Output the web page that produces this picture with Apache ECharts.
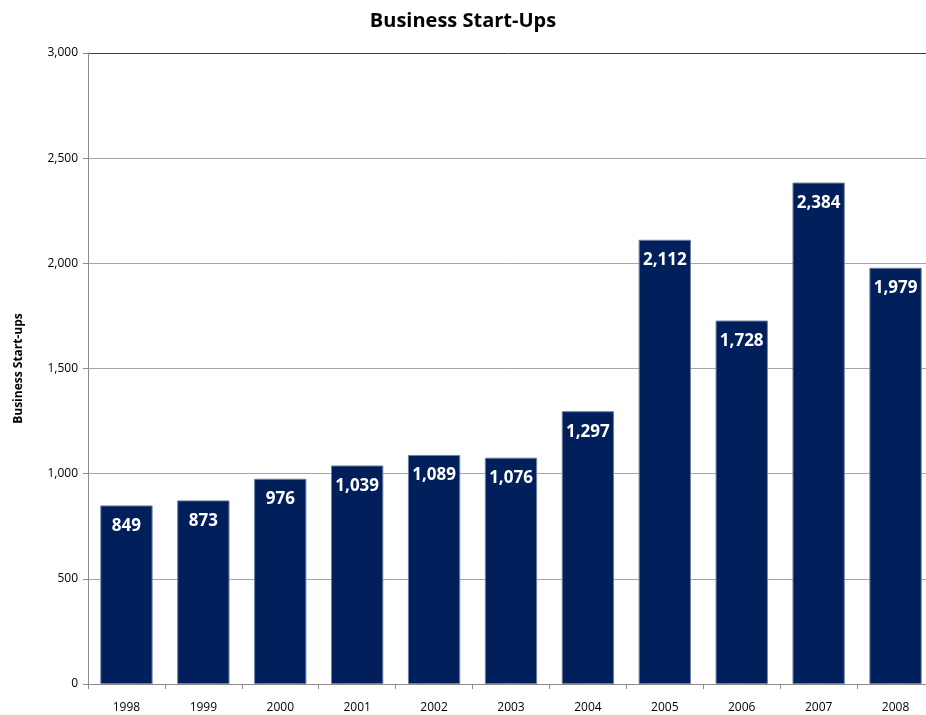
<!DOCTYPE html>
<html>
<head>
<meta charset="utf-8">
<script src="https://cdn.jsdelivr.net/npm/echarts@6/dist/echarts.min.js"></script>
<style>
  html, body { margin: 0; padding: 0; background: #fff; }
  #chart { width: 926px; height: 715px; }
</style>
</head>
<body>
<div id="chart"></div>
<script>
// Annual business start-up counts
const years = ['1998', '1999', '2000', '2001', '2002', '2003', '2004', '2005', '2006', '2007', '2008'];
const startUps = [849, 873, 976, 1039, 1089, 1076, 1297, 2112, 1728, 2384, 1979];

const FONT = '"Open Sans", "Liberation Sans", sans-serif';

const chart = echarts.init(document.getElementById('chart'));
chart.setOption({
  animation: false,
  title: {
    text: 'Business Start-Ups',
    left: 'center',
    top: 6,
    textStyle: { fontFamily: FONT, fontSize: 20, fontWeight: 'bold', color: '#000' }
  },
  grid: { left: 88, top: 53, width: 846, height: 631, outerBoundsMode: 'none' },
  xAxis: {
    type: 'category',
    data: years,
    axisLine: { lineStyle: { color: '#8c8c8c', width: 1 } },
    axisTick: { show: true, alignWithLabel: false, length: 5, lineStyle: { color: '#8c8c8c' } },
    axisLabel: { fontFamily: FONT, fontSize: 12, color: '#000', margin: 18 }
  },
  yAxis: {
    type: 'value',
    min: 0,
    max: 3000,
    interval: 500,
    name: 'Business Start-ups',
    nameLocation: 'middle',
    nameGap: 63,
    nameRotate: 90,
    nameTextStyle: { fontFamily: FONT, fontSize: 12, fontWeight: 'bold', color: '#000' },
    axisLine: { show: true, lineStyle: { color: '#8c8c8c', width: 1 } },
    axisTick: { show: true, length: 5, lineStyle: { color: '#8c8c8c' } },
    axisLabel: {
      fontFamily: FONT, fontSize: 12, color: '#000', margin: 10,
      formatter: v => v.toLocaleString('en-US')
    },
    splitLine: {
      show: true,
      lineStyle: {
        color: ['#a6a6a6', '#a6a6a6', '#a6a6a6', '#a6a6a6', '#a6a6a6', '#a6a6a6', '#404040'],
        width: 1
      }
    }
  },
  series: [{
    type: 'bar',
    data: startUps,
    barCategoryGap: '32%',
    itemStyle: { color: '#001f5b', borderColor: '#6f7fa3', borderWidth: 1 },
    label: {
      show: true,
      position: 'insideTop',
      distance: 12,
      fontFamily: FONT,
      fontSize: 17,
      fontWeight: 'bold',
      color: '#fff',
      formatter: p => p.value.toLocaleString('en-US')
    }
  }]
});
</script>
</body>
</html>
